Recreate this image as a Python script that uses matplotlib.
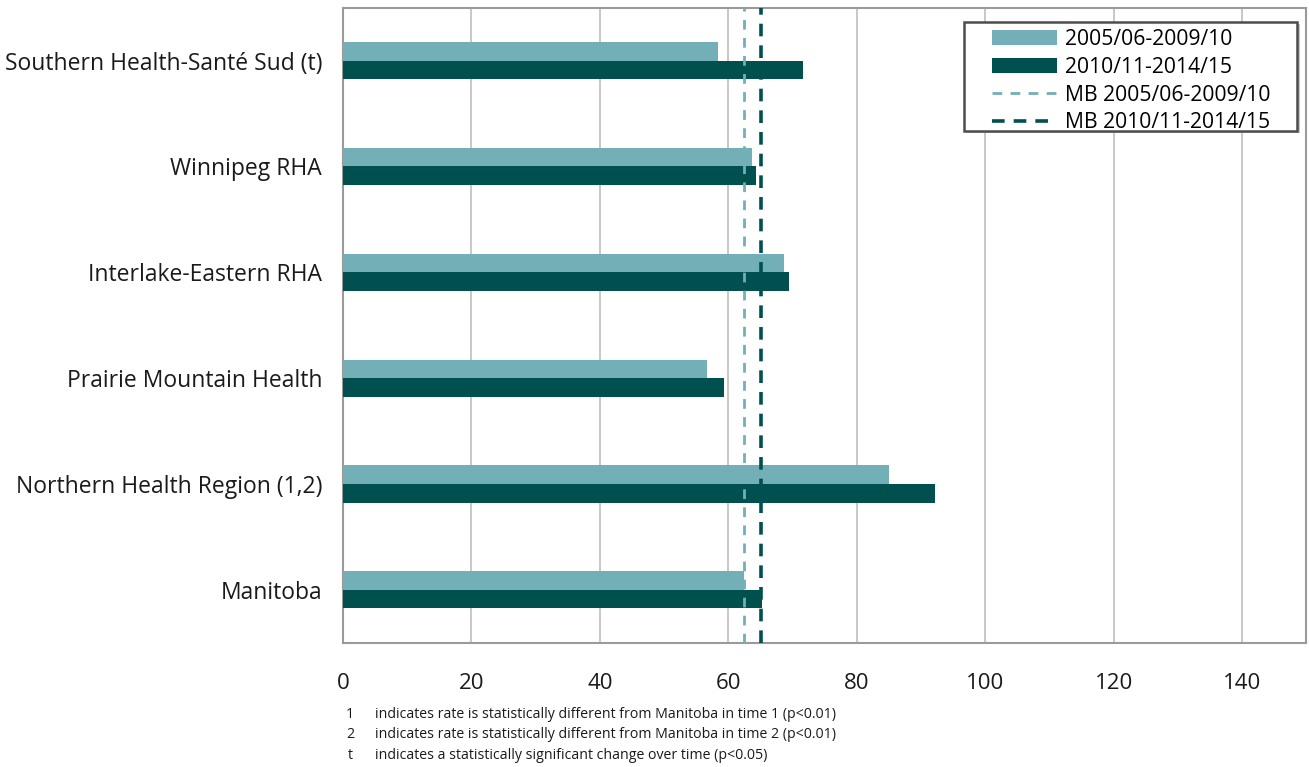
import matplotlib.pyplot as plt
import numpy as np
from matplotlib.patches import Rectangle

# 数据
regions = ["Southern Health-Santé Sud (t)", "Winnipeg RHA", "Interlake-Eastern RHA",
           "Prairie Mountain Health", "Northern Health Region (1,2)", "Manitoba"]
period1 = [58.4, 63.7, 68.7, 56.7, 85.0, 62.5]
period2 = [71.6, 64.3, 69.5, 59.3, 92.1, 65.2]
mb_period1 = 62.5
mb_period2 = 65.1
xticks = [0, 20, 40, 60, 80, 100, 120, 140]
footnotes = [("1", "indicates rate is statistically different from Manitoba in time 1 (p<0.01)"),
             ("2", "indicates rate is statistically different from Manitoba in time 2 (p<0.01)"),
             ("t", "indicates a statistically significant change over time (p<0.05)")]

light = "#72AFB6"
dark = "#00504F"

plt.rcParams["font.family"] = ["Open Sans", "DejaVu Sans"]

fig = plt.figure(figsize=(13.09, 7.67), dpi=100)
ax = fig.add_axes([0.262, 0.162, 0.736, 0.828])

y = np.arange(len(regions))
h = 0.175
b1 = ax.barh(y - h / 2, period1, height=h, color=light, zorder=3)
b2 = ax.barh(y + h / 2, period2, height=h, color=dark, zorder=3)
l1 = ax.axvline(mb_period1, color=light, linestyle=(0, (3.5, 3)), linewidth=2.0, zorder=4)
l2 = ax.axvline(mb_period2, color=dark, linestyle=(0, (3.5, 2.5)), linewidth=2.6, zorder=4)

# 坐标轴
ax.set_xlim(0, 150)
ax.set_ylim(len(regions) - 0.5, -0.5)
ax.set_xticks(xticks)
ax.set_yticks(y)
ax.set_yticklabels(regions, fontsize=16.5, color="#1a1a1a")
ax.tick_params(axis="x", length=0, labelsize=16, labelcolor="#1a1a1a", pad=22)
ax.tick_params(axis="y", length=0, pad=15)
ax.grid(axis="x", color="#BFBFBF", linewidth=1.2, zorder=0)
for s in ax.spines.values():
    s.set_color("#9a9a9a")
    s.set_linewidth(1.5)

# 图例（边框单独画）
ax.add_patch(Rectangle((0.648, 0.803), 0.345, 0.172, transform=ax.transAxes,
                       facecolor="#c8c8c8", edgecolor="none", zorder=5))
ax.add_patch(Rectangle((0.645, 0.806), 0.345, 0.172, transform=ax.transAxes,
                       facecolor="white", edgecolor="#4d4d4d", linewidth=1.8, zorder=6))
leg = ax.legend([b1, b2, l1, l2],
                ["2005/06-2009/10", "2010/11-2014/15", "MB 2005/06-2009/10", "MB 2010/11-2014/15"],
                loc="upper left", bbox_to_anchor=(0.669, 0.973), fontsize=15.2,
                frameon=False, handlelength=3.1, borderpad=0.2, labelspacing=0.32,
                handletextpad=0.35, borderaxespad=0)
leg.set_zorder(7)

# 脚注
for i, (k, t) in enumerate(footnotes):
    yy = 0.069 - i * 0.027
    fig.text(0.2675, yy, k, fontsize=10.2, color="#1a1a1a", va="center", ha="center")
    fig.text(0.2865, yy, t, fontsize=10.2, color="#1a1a1a", va="center")

plt.savefig("out.png", dpi=100)
